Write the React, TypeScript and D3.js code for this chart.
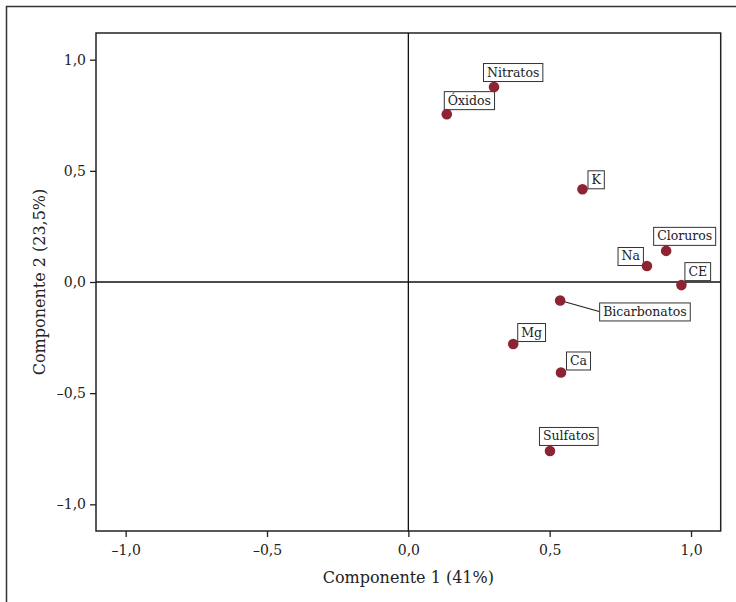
import { useEffect, useRef } from 'react'
import * as d3 from 'd3'

// loadings of each variable on the first two components
const variables = ['Nitratos', 'Óxidos', 'K', 'Cloruros', 'Na', 'CE', 'Bicarbonatos', 'Mg', 'Ca', 'Sulfatos']
const comp1 = [0.303, 0.136, 0.616, 0.912, 0.844, 0.966, 0.537, 0.371, 0.540, 0.501]
const comp2 = [0.877, 0.755, 0.417, 0.140, 0.072, -0.014, -0.083, -0.279, -0.407, -0.760]

const xTicks = [-1, -0.5, 0, 0.5, 1]
const yTicks = [-1, -0.5, 0, 0.5, 1]
const xTitle = 'Componente 1 (41%)'
const yTitle = 'Componente 2 (23,5%)'

// label box placement relative to its point: dx of box left, dy of box bottom
// 'right' anchors the box's right edge instead
const labelPlace: Record<string, { dx: number; dy: number; anchor?: 'right'; leader?: boolean }> = {
  Nitratos: { dx: -11, dy: -6 },
  'Óxidos': { dx: -3, dy: -5 },
  K: { dx: 5, dy: -1 },
  Cloruros: { dx: -13, dy: -6 },
  Na: { dx: -4, dy: -1, anchor: 'right' },
  CE: { dx: 3, dy: -5 },
  Bicarbonatos: { dx: 39, dy: 20, leader: true },
  Mg: { dx: 4, dy: -3 },
  Ca: { dx: 5, dy: -3 },
  Sulfatos: { dx: -11, dy: -6 },
}

const W = 736, H = 602
const M = { top: 33, right: 15.3, bottom: 71, left: 96 }
const FONT = 'DejaVu Serif'
const DOT = '#8c2434'

const fmt = (v: number) => d3.format('.1f')(v).replace('.', ',').replace('-', '–').replace('−', '–')

export default function App() {
  const svgRef = useRef<SVGSVGElement>(null)

  useEffect(() => {
    if (!svgRef.current) return
    const svg = d3.select(svgRef.current)
    svg.selectAll('*').remove()

    const x = d3.scaleLinear().domain([-1.105, 1.105]).range([M.left, W - M.right])
    const y = d3.scaleLinear().domain([-1.12, 1.12]).range([H - M.bottom, M.top])

    // outer frame (runs off the page on right and bottom)
    svg.append('rect')
      .attr('x', 6.5).attr('y', 6.5).attr('width', 900).attr('height', 900)
      .attr('fill', 'none').attr('stroke', '#333').attr('stroke-width', 1.5)

    // axes
    const xAxis = svg.append('g')
      .attr('transform', `translate(0,${H - M.bottom})`)
      .call(d3.axisBottom(x).tickValues(xTicks).tickFormat(d => fmt(+d)).tickSize(6).tickSizeOuter(0))
    const yAxis = svg.append('g')
      .attr('transform', `translate(${M.left},0)`)
      .call(d3.axisLeft(y).tickValues(yTicks).tickFormat(d => fmt(+d)).tickSize(6).tickSizeOuter(0))
    for (const ax of [xAxis, yAxis]) {
      ax.attr('font-family', FONT).attr('font-size', 14)
      ax.select('.domain').remove()
      ax.selectAll('line').attr('stroke', '#222').attr('stroke-width', 1.3)
      ax.selectAll('text').attr('fill', '#222')
    }
    xAxis.selectAll('text').attr('dy', '1.05em')
    yAxis.selectAll('text').attr('x', -10)

    // plot frame
    svg.append('rect')
      .attr('x', M.left).attr('y', M.top)
      .attr('width', W - M.right - M.left).attr('height', H - M.bottom - M.top)
      .attr('fill', 'none').attr('stroke', '#222').attr('stroke-width', 1.5)

    // zero reference lines
    svg.append('line')
      .attr('x1', x(0)).attr('x2', x(0)).attr('y1', M.top).attr('y2', H - M.bottom)
      .attr('stroke', '#111').attr('stroke-width', 1.3)
    svg.append('line')
      .attr('x1', M.left).attr('x2', W - M.right).attr('y1', y(0)).attr('y2', y(0))
      .attr('stroke', '#111').attr('stroke-width', 1.3)

    // axis titles
    svg.append('text')
      .attr('x', x(0)).attr('y', 583)
      .attr('text-anchor', 'middle')
      .attr('font-family', FONT).attr('font-size', 16).attr('fill', '#222')
      .text(xTitle)
    svg.append('text')
      .attr('transform', `translate(45,${y(0)}) rotate(-90)`)
      .attr('text-anchor', 'middle')
      .attr('font-family', FONT).attr('font-size', 16).attr('fill', '#222')
      .text(yTitle)

    const pts = variables.map((name, i) => ({ name, px: x(comp1[i]), py: y(comp2[i]) }))

    // labels with boxes
    const lab = svg.append('g')
    pts.forEach(p => {
      const pl = labelPlace[p.name]
      const g = lab.append('g')
      const t = g.append('text')
        .attr('font-family', FONT).attr('font-size', 12.5).attr('fill', '#222')
        .text(p.name)
      const tw = (t.node() as SVGTextElement).getComputedTextLength()
      const bw = tw + 7, bh = 18
      const left = pl.anchor === 'right' ? p.px + pl.dx - bw : p.px + pl.dx
      const bottom = p.py + pl.dy
      if (pl.leader) {
        g.insert('line', 'text')
          .attr('x1', p.px).attr('y1', p.py)
          .attr('x2', left).attr('y2', bottom - bh / 2)
          .attr('stroke', '#222').attr('stroke-width', 1.2)
      }
      g.insert('rect', 'text')
        .attr('x', left + 0.5).attr('y', bottom - bh + 0.5)
        .attr('width', bw).attr('height', bh)
        .attr('fill', '#fff').attr('stroke', '#333').attr('stroke-width', 1)
      t.attr('x', left + 0.5 + bw / 2).attr('y', bottom - 4.5).attr('text-anchor', 'middle')
    })

    // points
    svg.append('g').selectAll('circle')
      .data(pts)
      .join('circle')
      .attr('cx', d => d.px).attr('cy', d => d.py).attr('r', 5.3)
      .attr('fill', DOT)
  }, [])

  return (
    <svg ref={svgRef} width={W} height={H}
      style={{ position: 'absolute', left: 0, top: 0, background: '#fff', display: 'block' }} />
  )
}
